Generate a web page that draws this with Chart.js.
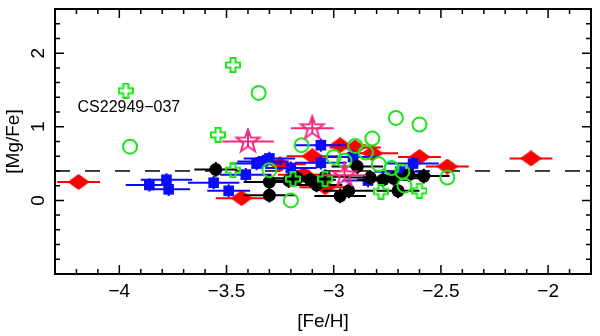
<!DOCTYPE html>
<html>
<head>
<meta charset="utf-8">
<script src="https://cdn.jsdelivr.net/npm/chart.js@4.4.0/dist/chart.umd.min.js"></script>
<style>
    html, body { margin: 0; padding: 0; background: #fff; }
</style>
</head>
<body>
<canvas id="graficoMg" width="600" height="336"></canvas>
<script>
// Datos: [Fe/H], [Mg/Fe] y error en [Fe/H]
const rojoFeH  = [-4.19, -3.43, -3.25, -3.14, -3.10, -3.04, -2.97, -2.90, -2.82, -2.60, -2.47, -2.08];
const rojoMgFe = [ 0.25,  0.03,  0.49,  0.35,  0.60,  0.18,  0.75,  0.72,  0.64,  0.59,  0.46,  0.57];
const rojoErr  = [ 0.10,  0.12,  0.12,  0.12,  0.12,  0.12,  0.12,  0.12,  0.12,  0.10,  0.10,  0.10];

const azulFeH  = [-3.86, -3.78, -3.77, -3.56, -3.49, -3.41, -3.36, -3.33, -3.30, -3.20, -3.06, -3.06, -2.91, -2.84, -2.69, -2.63];
const azulMgFe = [ 0.21,  0.28,  0.15,  0.24,  0.13,  0.35,  0.50,  0.53,  0.57,  0.44,  0.75,  0.51,  0.59,  0.27,  0.39,  0.50];
const azulErr  = [ 0.11,  0.12,  0.10,  0.12,  0.10,  0.12,  0.12,  0.12,  0.12,  0.12,  0.12,  0.12,  0.12,  0.12,  0.12,  0.12];
const azulErrY = [ 0.09,  0.09,  0.09,  0.09,  0.09,  0.09,  0.09,  0.09,  0.09,  0.09,  0.09,  0.09,  0.09,  0.09,  0.09,  0.09];

const negroFeH  = [-3.55, -3.30, -3.30, -3.21, -3.17, -3.11, -3.08, -3.04, -2.97, -2.93, -2.89, -2.83, -2.77, -2.72, -2.70, -2.65, -2.58];
const negroMgFe = [ 0.42,  0.25,  0.07,  0.27,  0.30,  0.28,  0.21,  0.32,  0.06,  0.13,  0.46,  0.31,  0.28,  0.30,  0.13,  0.35,  0.33];
const negroErr  = [ 0.10,  0.12,  0.12,  0.12,  0.12,  0.12,  0.12,  0.12,  0.12,  0.12,  0.12,  0.12,  0.12,  0.12,  0.10,  0.10,  0.12];
const negroErrY = [ 0.10,  0.10,  0.10,  0.10,  0.10,  0.10,  0.10,  0.10,  0.10,  0.10,  0.10,  0.10,  0.10,  0.10,  0.10,  0.10,  0.10];

const circVerdeFeH  = [-3.95, -3.35, -3.30, -3.20, -3.15, -3.00, -2.95, -2.90, -2.85, -2.82, -2.79, -2.73, -2.68, -2.67, -2.71, -2.60, -2.47];
const circVerdeMgFe = [ 0.73,  1.46,  0.41,  0.00,  0.75,  0.59,  0.54,  0.74,  0.65,  0.84,  0.49,  0.44,  0.39,  0.20,  1.12,  1.03,  0.31];

const cruzVerdeFeH  = [-3.97, -3.47, -3.54, -3.47, -3.19, -3.04, -2.78, -2.60];
const cruzVerdeMgFe = [ 1.49,  1.84,  0.89,  0.41,  0.29,  0.29,  0.12,  0.13];

const estrellaFeH  = [-3.40, -3.10, -2.95];
const estrellaMgFe = [ 0.80,  0.98,  0.34];
const estrellaErr  = [ 0.12,  0.10,  0.10];

const nivelSolar = 0.4;
const ticksX = [-4, -3.5, -3, -2.5, -2];
const ticksY = [0, 1, 2];

const etiqueta = { texto: 'CS22949\u2212037', x: -4.195, y: 1.26 };

const ROJO = '#ff0000';
const AZUL = '#0a0aff';
const VERDE = '#1ee61e';
const ROSA = '#f5287d';

function puntos(xs, ys) {
    return xs.map((x, i) => ({ x: x, y: ys[i] }));
}

// Marcadores dibujados en canvas
function crearDiamante(color, w, h) {
    const c = document.createElement('canvas');
    c.width = w; c.height = h;
    const g = c.getContext('2d');
    g.fillStyle = color;
    g.beginPath();
    g.moveTo(w / 2, 0); g.lineTo(w, h / 2); g.lineTo(w / 2, h); g.lineTo(0, h / 2);
    g.closePath();
    g.fill();
    return c;
}

function crearCruz(color, s, a) {
    const c = document.createElement('canvas');
    c.width = s + 2; c.height = s + 2;
    const g = c.getContext('2d');
    const m = (s + 2) / 2, h = s / 2, b = a / 2;
    g.strokeStyle = color;
    g.lineWidth = 2;
    g.beginPath();
    g.moveTo(m - b, m - h); g.lineTo(m + b, m - h); g.lineTo(m + b, m - b);
    g.lineTo(m + h, m - b); g.lineTo(m + h, m + b); g.lineTo(m + b, m + b);
    g.lineTo(m + b, m + h); g.lineTo(m - b, m + h); g.lineTo(m - b, m + b);
    g.lineTo(m - h, m + b); g.lineTo(m - h, m - b); g.lineTo(m - b, m - b);
    g.closePath();
    g.stroke();
    return c;
}

function crearEstrella(color, R, r) {
    const s = Math.ceil(2 * R + 4);
    const c = document.createElement('canvas');
    c.width = s; c.height = s;
    const g = c.getContext('2d');
    const m = s / 2;
    g.strokeStyle = color;
    g.lineWidth = 2;
    g.beginPath();
    for (let k = 0; k < 10; k++) {
        const rad = (k % 2 === 0) ? R : r;
        const ang = -Math.PI / 2 + k * Math.PI / 5;
        const px = m + rad * Math.cos(ang), py = m + rad * Math.sin(ang);
        if (k === 0) g.moveTo(px, py); else g.lineTo(px, py);
    }
    g.closePath();
    g.stroke();
    g.beginPath();
    g.moveTo(m, m - R + 3); g.lineTo(m, m + r);
    g.stroke();
    return c;
}

// Barras de error horizontales (y verticales) antes de cada serie
const barrasError = {
    id: 'barrasError',
    beforeDatasetDraw(chart, args) {
        const ds = chart.data.datasets[args.index];
        if (!ds.xErr) return;
        const ctx = chart.ctx, sx = chart.scales.x, sy = chart.scales.y, area = chart.chartArea;
        ctx.save();
        ctx.beginPath();
        ctx.rect(area.left, area.top, area.width, area.height);
        ctx.clip();
        ctx.strokeStyle = ds.errColor;
        ctx.lineWidth = 2;
        ds.data.forEach((p, i) => {
            const py = sy.getPixelForValue(p.y);
            const px = sx.getPixelForValue(p.x);
            ctx.beginPath();
            ctx.moveTo(sx.getPixelForValue(p.x - ds.xErr[i]), py);
            ctx.lineTo(sx.getPixelForValue(p.x + ds.xErr[i]), py);
            if (ds.yErr) {
                ctx.moveTo(px, sy.getPixelForValue(p.y - ds.yErr[i]));
                ctx.lineTo(px, sy.getPixelForValue(p.y + ds.yErr[i]));
            }
            ctx.stroke();
        });
        ctx.restore();
    }
};

// Marco con ticks hacia dentro en los cuatro lados y la etiqueta de la estrella
const marco = {
    id: 'marco',
    afterDatasetsDraw(chart) {
        const ctx = chart.ctx, sx = chart.scales.x, sy = chart.scales.y, a = chart.chartArea;
        ctx.save();
        ctx.strokeStyle = '#000';
        ctx.lineWidth = 2;
        ctx.strokeRect(a.left, a.top, a.right - a.left, a.bottom - a.top);
        ctx.lineWidth = 1.5;
        ctx.beginPath();
        for (let k = Math.ceil(sx.min * 10); k <= Math.floor(sx.max * 10); k++) {
            const px = sx.getPixelForValue(k / 10);
            const len = (k % 5 === 0) ? 9 : 5;
            ctx.moveTo(px, a.bottom); ctx.lineTo(px, a.bottom - len);
            ctx.moveTo(px, a.top); ctx.lineTo(px, a.top + len);
        }
        for (let k = Math.ceil(sy.min * 5); k <= Math.floor(sy.max * 5); k++) {
            const py = sy.getPixelForValue(k / 5);
            const len = (k % 5 === 0) ? 9 : 5;
            ctx.moveTo(a.left, py); ctx.lineTo(a.left + len, py);
            ctx.moveTo(a.right, py); ctx.lineTo(a.right - len, py);
        }
        ctx.stroke();

        ctx.fillStyle = '#000';
        ctx.font = '16px "Liberation Sans", Arial, sans-serif';
        ctx.textAlign = 'left';
        ctx.textBaseline = 'middle';
        ctx.fillText(etiqueta.texto, sx.getPixelForValue(etiqueta.x), sy.getPixelForValue(etiqueta.y));
        ctx.restore();
    }
};

function formatoTick(value) {
    return value < 0 ? '\u2212' + Math.abs(value) : String(value);
}

const fuente = { family: '"Liberation Sans", Arial, sans-serif', size: 19 };

const ctx = document.getElementById('graficoMg').getContext('2d');
new Chart(ctx, {
    type: 'scatter',
    data: {
        datasets: [
            {
                label: 'estrellas',
                data: puntos(estrellaFeH, estrellaMgFe),
                xErr: estrellaErr,
                errColor: ROSA,
                pointStyle: crearEstrella(ROSA, 12, 4.8)
            },
            {
                label: 'cruces',
                data: puntos(cruzVerdeFeH, cruzVerdeMgFe),
                pointStyle: crearCruz(VERDE, 14, 5)
            },
            {
                label: 'circulos',
                data: puntos(circVerdeFeH, circVerdeMgFe),
                pointStyle: 'circle',
                pointRadius: 7,
                borderColor: VERDE,
                borderWidth: 2,
                backgroundColor: 'rgba(0,0,0,0)'
            },
            {
                label: 'negro',
                data: puntos(negroFeH, negroMgFe),
                xErr: negroErr,
                yErr: negroErrY,
                errColor: '#000',
                pointStyle: 'circle',
                pointRadius: 6.5,
                borderWidth: 0,
                backgroundColor: '#000'
            },
            {
                label: 'azul',
                data: puntos(azulFeH, azulMgFe),
                xErr: azulErr,
                yErr: azulErrY,
                errColor: AZUL,
                pointStyle: 'rect',
                pointRadius: 7.5,
                borderWidth: 0,
                backgroundColor: AZUL
            },
            {
                label: 'rojo',
                data: puntos(rojoFeH, rojoMgFe),
                xErr: rojoErr,
                errColor: ROJO,
                pointStyle: crearDiamante(ROJO, 22, 16)
            },
            {
                type: 'line',
                label: 'solar',
                data: [{ x: -4.3, y: nivelSolar }, { x: -1.8, y: nivelSolar }],
                borderColor: '#000',
                borderWidth: 1.5,
                borderDash: [15, 15],
                pointRadius: 0
            }
        ]
    },
    options: {
        responsive: false,
        animation: false,
        devicePixelRatio: 1,
        layout: { padding: { top: 4, right: 4, left: 0, bottom: 0 } },
        plugins: {
            legend: { display: false },
            tooltip: { enabled: false }
        },
        scales: {
            x: {
                type: 'linear',
                min: -4.3,
                max: -1.8,
                afterBuildTicks: s => { s.ticks = ticksX.map(v => ({ value: v })); },
                afterFit: s => { s.height = 62; s.paddingLeft = 0; s.paddingRight = 0; },
                grid: { display: false, drawTicks: false },
                border: { display: false },
                ticks: { color: '#000', font: fuente, padding: 6, maxRotation: 0, callback: formatoTick },
                title: {
                    display: true,
                    text: '[Fe/H]',
                    color: '#000',
                    font: { family: fuente.family, size: 19 },
                    padding: { top: 0, bottom: 3 }
                }
            },
            y: {
                type: 'linear',
                min: -1,
                max: 2.6,
                afterBuildTicks: s => { s.ticks = ticksY.map(v => ({ value: v })); },
                afterFit: s => { s.width = 55; s.paddingTop = 0; s.paddingBottom = 0; },
                grid: { display: false, drawTicks: false },
                border: { display: false },
                ticks: {
                    color: '#000',
                    font: fuente,
                    padding: 11,
                    minRotation: 90,
                    maxRotation: 90,
                    crossAlign: 'center',
                    callback: formatoTick
                },
                title: {
                    display: true,
                    text: '[Mg/Fe]',
                    color: '#000',
                    font: { family: fuente.family, size: 19 },
                    padding: { top: 2, bottom: 0 }
                }
            }
        }
    },
    plugins: [barrasError, marco]
});
</script>
</body>
</html>
